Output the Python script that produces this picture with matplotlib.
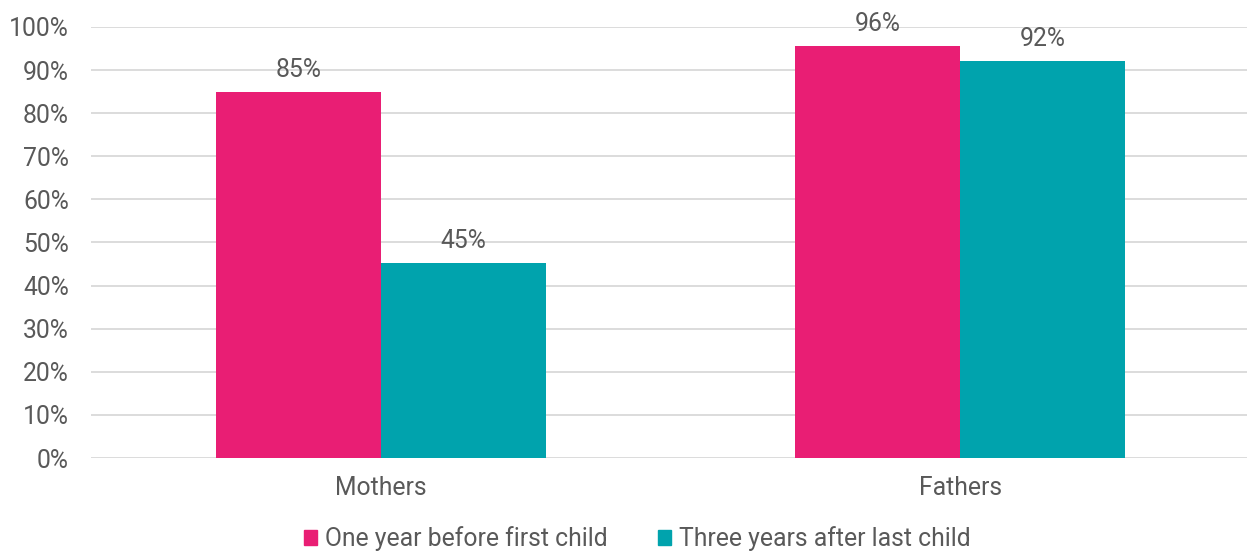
import numpy as np
import matplotlib.pyplot as plt
from matplotlib.patches import Patch

groups = ['Mothers', 'Fathers']
series_names = ['One year before first child', 'Three years after last child']
before_first = [84.9, 95.6]
after_last = [45.3, 92.1]
labels_before = ['85%', '96%']
labels_after = ['45%', '92%']
yticks = list(range(0, 101, 10))

pink = '#E91E74'
teal = '#00A3AD'
text_col = '#595959'

plt.rcParams['font.family'] = ['Roboto', 'DejaVu Sans']

fig = plt.figure(figsize=(12.47, 5.51), dpi=100)
ax = fig.add_axes([91 / 1247, 1 - 458 / 551, (1250 - 91) / 1247, (458 - 27) / 551])

x = np.arange(len(groups))
w = 0.285
b1 = ax.bar(x - w / 2, before_first, w, color=pink, zorder=3)
b2 = ax.bar(x + w / 2, after_last, w, color=teal, zorder=3)

fs = 17.8
for bars, labs in [(b1, labels_before), (b2, labels_after)]:
    for bar, lab in zip(bars, labs):
        ax.annotate(lab, (bar.get_x() + bar.get_width() / 2, bar.get_height()),
                    xytext=(0, 7), textcoords='offset points', ha='center', va='bottom',
                    fontsize=fs, color=text_col)

ax.set_xlim(-0.5, 1.5)
ax.set_ylim(0, 100)
ax.set_yticks(yticks)
ax.set_yticklabels([f'{t}%' for t in yticks])
ax.set_xticks(x)
ax.set_xticklabels(groups)
ax.yaxis.grid(True, color='#d9d9d9', linewidth=1.3, zorder=0)
ax.set_axisbelow(True)
for s in ax.spines.values():
    s.set_visible(False)
ax.tick_params(axis='both', length=0, labelsize=fs, colors=text_col)
ax.tick_params(axis='x', pad=13)
ax.tick_params(axis='y', pad=16)

handles = [Patch(color=pink), Patch(color=teal)]
fig.legend(handles, series_names, loc='center', bbox_to_anchor=(637 / 1247, 1 - 539 / 551),
           ncol=2, frameon=False, fontsize=fs, labelcolor=text_col,
           handlelength=0.55, handleheight=0.55, handletextpad=0.3, columnspacing=2.05)

fig.savefig('out.png', dpi=100)
